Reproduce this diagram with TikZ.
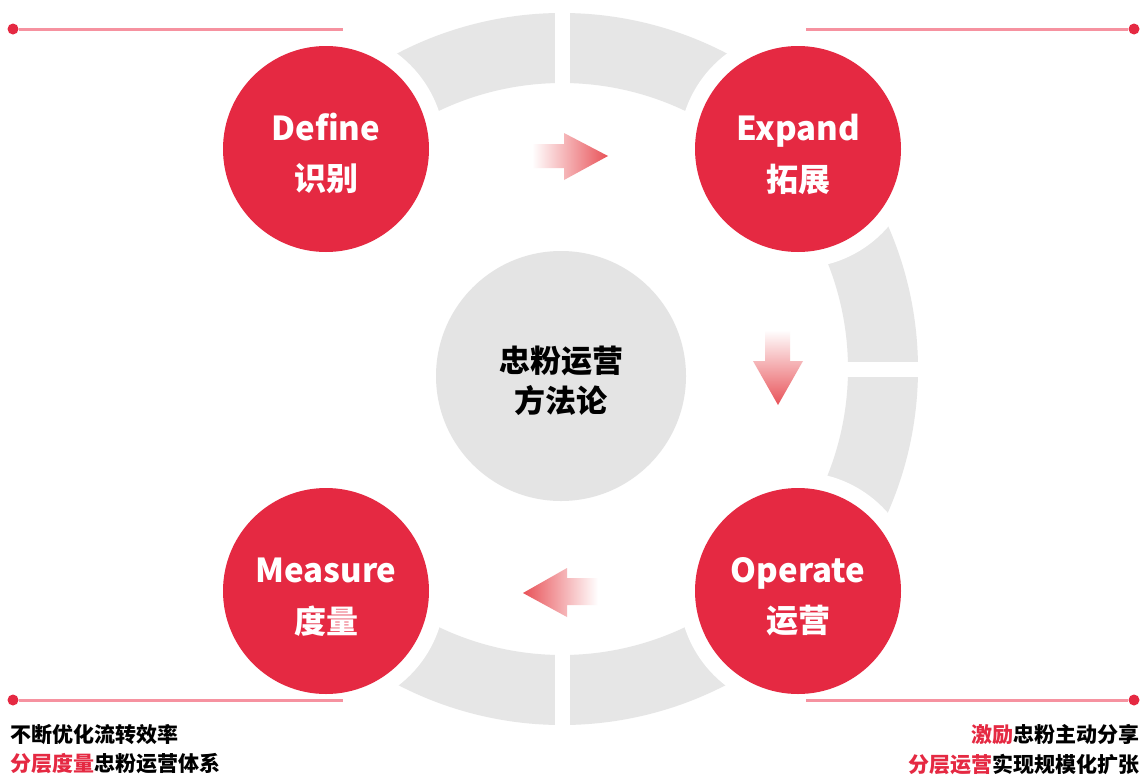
\documentclass[tikz,border=0pt]{standalone}
\usepackage{fontspec}
\setmainfont{Noto Sans CJK SC}
\definecolor{mainred}{RGB}{229,41,66}
\definecolor{pinkline}{RGB}{246,146,160}
\definecolor{ringgray}{RGB}{230,230,230}
\definecolor{centergray}{RGB}{228,228,228}
\definecolor{arrowred}{RGB}{232,82,88}
\tikzset{
  redc/.style={circle, fill=mainred, minimum size=103pt, inner sep=0pt},
  centerc/.style={circle, fill=centergray, minimum size=125pt, inner sep=0pt},
  entxt/.style={text=white, anchor=base, inner sep=0pt, font=\fontsize{16.5}{18}\selectfont\bfseries},
  cntxt/.style={text=white, anchor=center, inner sep=0pt, font=\fontsize{16}{18}\selectfont\bfseries},
  midtxt/.style={text=black, anchor=center, inner sep=0pt, font=\fontsize{15.5}{17}\selectfont\bfseries},
  sidetxt/.style={text=black, inner sep=0pt, font=\fontsize{10.5}{12}\selectfont\bfseries},
  dotn/.style={circle, fill=mainred, minimum size=5.5pt, inner sep=0pt},
  sideline/.style={pinkline, line width=1.5pt},
  ringseg/.style={ringgray, line width=35pt},
  gapline/.style={white, line width=7.5pt},
}
\begin{document}
\begin{tikzpicture}[x=0.5pt,y=-0.5pt]
\useasboundingbox (0,0) rectangle (1140,777);
\fill[white] (0,0) rectangle (1140,777);

% ring
\coordinate (c) at (562,369);
\draw[ringseg] (c) ++(-137:321) arc[start angle=-137, end angle=-43, radius=321];
\draw[ringseg] (c) ++(-43:321) arc[start angle=-43, end angle=43, radius=321];
\draw[ringseg] (c) ++(43:321) arc[start angle=43, end angle=137, radius=321];
\draw[gapline] (c) ++(-90:270) -- ++(-90:100);
\draw[gapline] (c) ++(0:270) -- ++(0:100);
\draw[gapline] (c) ++(90:270) -- ++(90:100);

% halos
\fill[white] (326,149) circle[radius=119];
\fill[white] (798,149) circle[radius=119];
\fill[white] (798,591) circle[radius=119];
\fill[white] (326,591) circle[radius=119];

% red circles
\node[redc] (define) at (326,149) {};
\node[redc] (expand) at (798,149) {};
\node[redc] (operate) at (798,591) {};
\node[redc] (measure) at (326,591) {};

\node[entxt] (defineEn) at (326,140) {Define};
\node[cntxt] (defineCn) at (326,179) {识别};
\node[entxt] (expandEn) at (798,140) {Expand};
\node[cntxt] (expandCn) at (798,179) {拓展};
\node[entxt] (operateEn) at (798,582) {Operate};
\node[cntxt] (operateCn) at (798,621) {运营};
\node[entxt] (measureEn) at (326,582) {Measure};
\node[cntxt] (measureCn) at (326,621) {度量};

% center
\node[centerc] (center) at (561,376) {};
\node[midtxt] (ct1) at (561,361) {忠粉运营};
\node[midtxt] (ct2) at (561,401) {方法论};

% gradient arrows
\shade[left color=white, right color=arrowred]
  (532,144) -- (564,144) -- (564,133) -- (608,156) -- (564,180) -- (564,168) -- (532,168) -- cycle;
\shade[top color=white, bottom color=arrowred]
  (765,330) -- (790,330) -- (790,361) -- (803,361) -- (778,405) -- (753,361) -- (765,361) -- cycle;
\shade[left color=arrowred, right color=white]
  (523,593) -- (567,568) -- (567,578) -- (598,578) -- (598,605) -- (567,605) -- (567,617) -- cycle;

% side lines
\node[dotn] (tl) at (13,29) {};
\coordinate (tle) at (343,29);
\draw[sideline] (tl) -- (tle);
\node[dotn] (tr) at (1134,29) {};
\coordinate (tre) at (806,29);
\draw[sideline] (tr) -- (tre);
\node[dotn] (bl) at (13,700) {};
\coordinate (ble) at (343,700);
\draw[sideline] (bl) -- (ble);
\node[dotn] (br) at (1134,700) {};
\coordinate (bre) at (806,700);
\draw[sideline] (br) -- (bre);

% side texts
\node[sidetxt, anchor=west] (bl1) at (10,735) {不断优化流转效率};
\node[sidetxt, anchor=west] (bl2) at (10,764) {\textcolor{mainred}{分层度量}忠粉运营体系};
\node[sidetxt, anchor=east] (br1) at (1140,735) {\textcolor{mainred}{激励}忠粉主动分享};
\node[sidetxt, anchor=east] (br2) at (1140,764) {\textcolor{mainred}{分层运营}实现规模化扩张};
\end{tikzpicture}
\end{document}
